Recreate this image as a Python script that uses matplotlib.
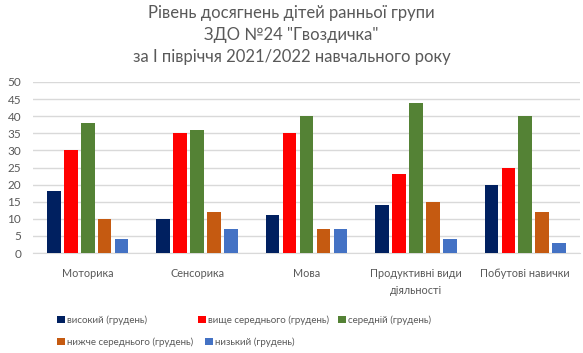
import matplotlib
matplotlib.use('Agg')
import matplotlib.pyplot as plt
import numpy as np

plt.rcParams['font.family'] = ['Lato', 'Noto Sans', 'DejaVu Sans']

# --- data ---
categories = ['Моторика', 'Сенсорика', 'Мова', 'Продуктивні види\nдіяльності', 'Побутові навички']
series_names = ['високий (грудень)', 'вище середнього (грудень)', 'середній (грудень)',
                'нижче середнього (грудень)', 'низький (грудень)']
high = [18, 10, 11, 14, 20]
above_avg = [30, 35, 35, 23, 25]
average = [38, 36, 40, 44, 40]
below_avg = [10, 12, 7, 15, 12]
low = [4, 7, 7, 4, 3]

colors = ['#002060', '#FF0000', '#548235', '#C55A11', '#4472C4']
text_color = '#595959'

fig = plt.figure(figsize=(5.83, 3.53), dpi=100)
ax = fig.add_axes([33 / 583, 1 - 253 / 353, 547 / 583, (253 - 82) / 353])

x = np.arange(len(categories))
step = 0.155
width = 0.125
handles = []
for i, (vals, col) in enumerate(zip([high, above_avg, average, below_avg, low], colors)):
    b = ax.bar(x + (i - 2) * step, vals, width, color=col, label=series_names[i], zorder=3)
    handles.append(b)

ax.set_xlim(-0.5, len(categories) - 0.5)
ax.set_ylim(0, 50)
ax.set_yticks(range(0, 51, 5))
ax.set_xticks(x)
ax.set_xticklabels(categories, fontsize=7.8, color=text_color, linespacing=1.6)
ax.tick_params(axis='y', labelsize=8.5, colors=text_color, length=0, pad=8.5)
ax.tick_params(axis='x', length=0, pad=11)
ax.grid(axis='y', color='#D9D9D9', linewidth=1, zorder=0)
for s in ['top', 'right', 'left']:
    ax.spines[s].set_visible(False)
ax.spines['bottom'].set_color('#D9D9D9')

fig.text(0.5, 1 - 35 / 353, 'Рівень досягнень дітей ранньої групи\nЗДО №24 "Гвоздичка"\nза І півріччя 2021/2022 навчального року',
         ha='center', va='center', fontsize=12, color=text_color, linespacing=1.45)

# legend entries laid out row by row, like the original
legend_pos = [(57, 320), (198, 320), (338, 320), (57, 342), (205, 342)]
for h, name, (px, py) in zip(handles, series_names, legend_pos):
    fig.legend([h], [name], loc='center left', bbox_to_anchor=(px / 583, 1 - py / 353),
               frameon=False, fontsize=7.0, labelcolor=text_color,
               handlelength=0.8, handleheight=0.8, handletextpad=0.25,
               borderaxespad=0, borderpad=0)

fig.savefig('out.png', dpi=100)
